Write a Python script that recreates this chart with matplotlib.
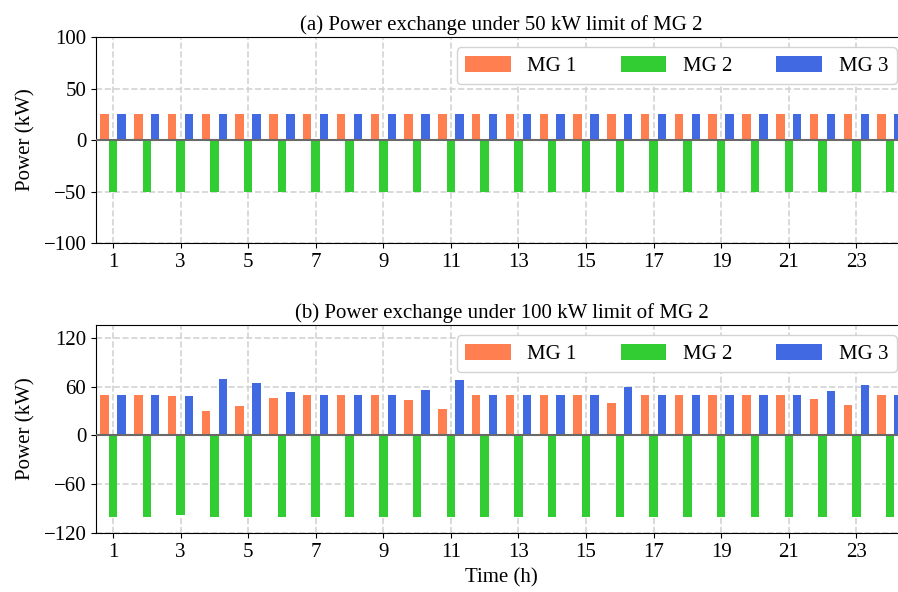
import numpy as np
import matplotlib.pyplot as plt

plt.rcParams['font.family'] = ['Liberation Serif', 'DejaVu Serif']
plt.rcParams['font.size'] = 15
plt.rcParams['mathtext.fontset'] = 'stix'

hours = np.arange(1, 25)
labels = ['MG 1', 'MG 2', 'MG 3']
colors = ['coral', 'limegreen', 'royalblue']

# (a) 50 kW limit of MG 2
mg1_a = [25] * 24
mg2_a = [-50] * 24
mg3_a = [25] * 24

# (b) 100 kW limit of MG 2
mg1_b = [50, 50, 49, 30, 36, 46, 50, 50, 50, 44, 32, 50,
         50, 50, 50, 40, 50, 50, 50, 50, 50, 45, 38, 50]
mg2_b = [-100, -100, -98, -100, -100, -100, -100, -100, -100, -100, -100, -100,
         -100, -100, -100, -100, -100, -100, -100, -100, -100, -100, -100, -100]
mg3_b = [50, 50, 49, 70, 64, 54, 50, 50, 50, 56, 68, 50,
         50, 50, 50, 60, 50, 50, 50, 50, 50, 55, 62, 50]

fig = plt.figure(figsize=(8.98, 5.92), dpi=100)
ax1 = fig.add_axes([0.107, 0.5895, 0.903, 0.348])
ax2 = fig.add_axes([0.107, 0.0997, 0.903, 0.3513])

w = 0.25
offs = [-0.25, 0, 0.25]

def draw(ax, series, title, ylim, yticks):
    for s, o, c, l in zip(series, offs, colors, labels):
        ax.bar(hours + o, s, width=w, color=c, label=l, zorder=3)
    ax.axhline(0, color='dimgray', lw=1.5, zorder=4)
    ax.grid(True, ls='--', color='lightgray', lw=1.2, zorder=0)
    ax.set_xlim(0.5, 24.5)
    ax.set_ylim(*ylim)
    ax.set_yticks(yticks)
    ax.set_xticks(np.arange(1, 25, 2))
    ax.set_ylabel('Power (kW)', labelpad=6)
    ax.set_title(title, fontsize=15, pad=5)
    ax.legend(loc='upper right', ncol=3, handlelength=2.2, handleheight=0.8,
              handletextpad=0.8, columnspacing=2.1, framealpha=1,
              edgecolor='lightgray', fancybox=True)

draw(ax1, [mg1_a, mg2_a, mg3_a], '(a) Power exchange under 50 kW limit of MG 2',
     (-100, 100), [-100, -50, 0, 50, 100])
draw(ax2, [mg1_b, mg2_b, mg3_b], '(b) Power exchange under 100 kW limit of MG 2',
     (-120, 136), [-120, -60, 0, 60, 120])
ax2.set_xlabel('Time (h)', labelpad=5)

fig.savefig('out.png', dpi=100)
